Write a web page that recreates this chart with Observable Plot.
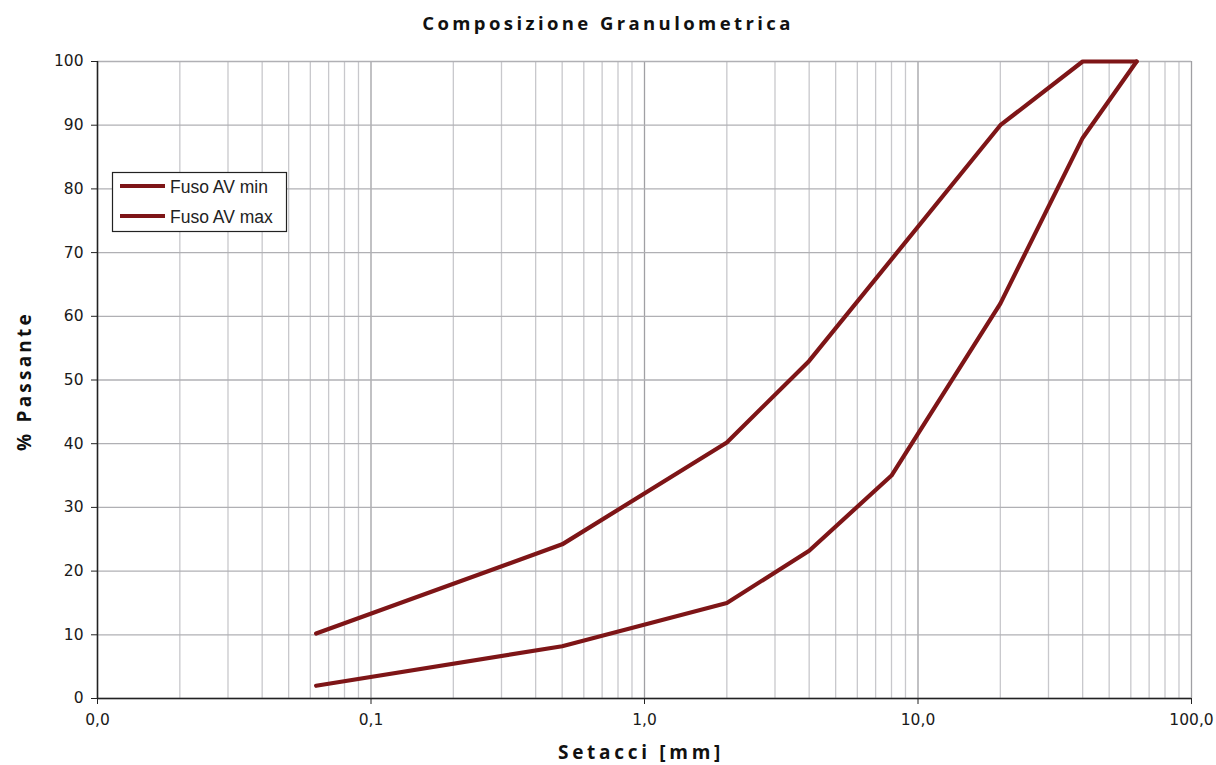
<!DOCTYPE html>
<html><head><meta charset="utf-8">
<script src="https://cdn.jsdelivr.net/npm/d3@7"></script>
<script src="https://cdn.jsdelivr.net/npm/@observablehq/plot@0.6"></script>
<style>body{margin:0;background:#fff;} svg{display:block}</style>
</head><body><div id="chart"></div>
<script>
const sieveMin = [0.063, 0.5, 2, 4, 8, 20, 40, 63];
const passMin  = [2, 8.2, 15, 23.2, 35, 62, 88, 100];
const sieveMax = [0.063, 0.5, 2, 4, 20, 40, 63];
const passMax  = [10.2, 24.2, 40.2, 53, 90, 100, 100];
const xTicks = [0.01, 0.1, 1, 10, 100];
const yTicks = [0, 10, 20, 30, 40, 50, 60, 70, 80, 90, 100];
const seriesNames = ["Fuso AV min", "Fuso AV max"];
const title = "Composizione Granulometrica";
const xLabel = "Setacci [mm]";
const yLabel = "% Passante";

const minorX = [];
for (const d of [0.01, 0.1, 1, 10]) for (let k = 2; k <= 9; k++) minorX.push(+(d * k).toPrecision(3));

const minData = sieveMin.map((s, i) => ({s, p: passMin[i]}));
const maxData = sieveMax.map((s, i) => ({s, p: passMax[i]}));
const color = "#7e1517";
const fmt = d => d3.format(".1f")(d).replace(".", ",");

const chart = Plot.plot({
  width: 1216, height: 765,
  marginLeft: 97, marginRight: 25, marginTop: 61, marginBottom: 67,
  style: {fontFamily: "'DejaVu Sans', sans-serif", fontSize: "15px", color: "#1a1a1a", background: "#fff"},
  x: {type: "log", domain: [0.01, 100]},
  y: {domain: [0, 100]},
  marks: [
    Plot.ruleX(minorX, {stroke: "#c8c8cc", strokeWidth: 1.3}),
    Plot.ruleX(xTicks, {stroke: "#a0a0a4", strokeWidth: 1.3}),
    Plot.ruleY(yTicks, {stroke: "#b0b0b4", strokeWidth: 1.3}),
    Plot.axisX({ticks: xTicks, tickFormat: fmt, tickSize: 6, tickPadding: 9, label: null, stroke: "#222", fontSize: 15.5}),
    Plot.axisY({ticks: yTicks, tickSize: 6, tickPadding: 8, label: null, stroke: "#222", fontSize: 15.5}),
    Plot.ruleY([0], {stroke: "#222", strokeWidth: 1.5}),
    Plot.ruleX([0.01], {stroke: "#222", strokeWidth: 1.5}),
    Plot.line(minData, {x: "s", y: "p", stroke: color, strokeWidth: 4.2}),
    Plot.line(maxData, {x: "s", y: "p", stroke: color, strokeWidth: 4.2})
  ]
});
document.getElementById("chart").append(chart);

const svg = d3.select(chart);
svg.append("text").attr("x", 608).attr("y", 30).attr("text-anchor", "middle")
  .style("font-family", "'Open Sans', sans-serif").style("font-weight", "bold").style("font-size", "18.5px")
  .style("letter-spacing", "3.4px").attr("fill", "#111").text(title);
svg.append("text").attr("x", 641).attr("y", 759).attr("text-anchor", "middle")
  .style("font-family", "'Open Sans', sans-serif").style("font-weight", "bold").style("font-size", "19px")
  .style("letter-spacing", "3.7px").attr("fill", "#111").text(xLabel);
svg.append("text").attr("transform", "translate(31,381) rotate(-90)").attr("text-anchor", "middle")
  .style("font-family", "'Open Sans', sans-serif").style("font-weight", "bold").style("font-size", "19px")
  .style("letter-spacing", "3.2px").attr("fill", "#111").text(yLabel);

const lg = svg.append("g");
lg.append("rect").attr("x", 112.5).attr("y", 172.5).attr("width", 174).attr("height", 59)
  .attr("fill", "#fff").attr("stroke", "#222").attr("stroke-width", 1.2);
seriesNames.forEach((n, i) => {
  const y = 186 + i * 30;
  lg.append("line").attr("x1", 120).attr("x2", 165).attr("y1", y).attr("y2", y)
    .attr("stroke", color).attr("stroke-width", 4);
  lg.append("text").attr("x", 170).attr("y", y + 6.5).attr("text-anchor", "start")
    .style("font-family", "'Liberation Sans', Arial, sans-serif").style("font-size", "17.5px")
    .attr("fill", "#222").text(n);
});
</script></body></html>
